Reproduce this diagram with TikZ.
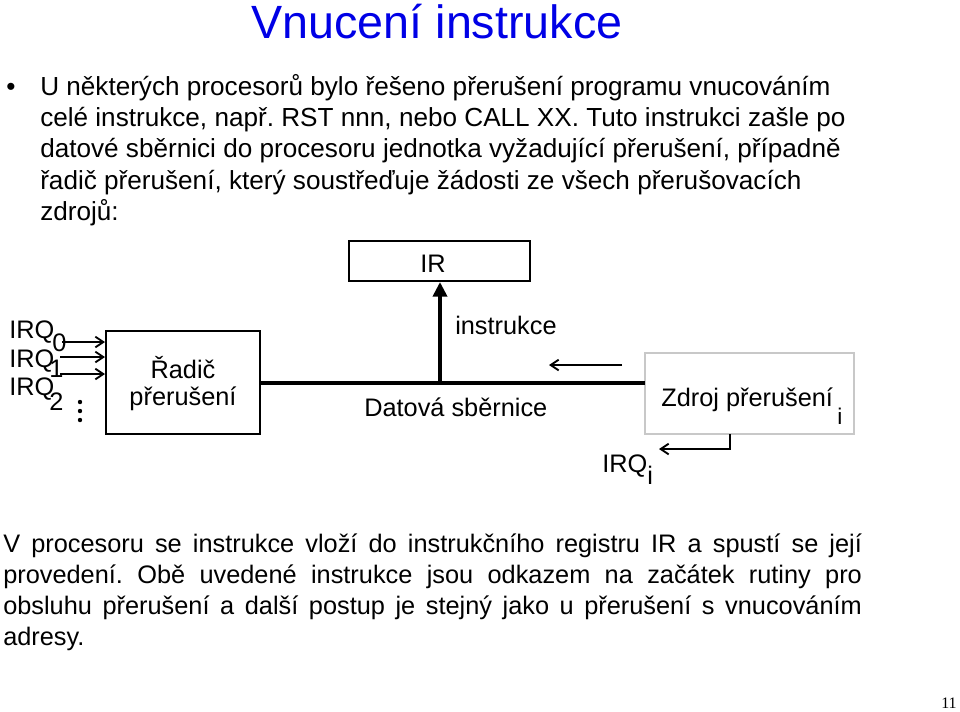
\documentclass[tikz,border=0pt]{standalone}
\usepackage{fontspec}
\setmainfont{Liberation Sans}
\newfontfamily\pagefont{Liberation Serif}
\usetikzlibrary{arrows.meta}
\definecolor{titleblue}{RGB}{0,0,230}
\definecolor{srcgray}{RGB}{200,200,200}
\frenchspacing
\begin{document}
\begin{tikzpicture}[x=0.75pt,y=-0.75pt,
  txt/.style={anchor=base west,inner sep=0,font=\fontsize{19}{19}\selectfont},
  toptxt/.style={anchor=base west,inner sep=0,font=\fontsize{19.6}{19.6}\selectfont},
  subtxt/.style={anchor=base west,inner sep=0,font=\fontsize{17}{17}\selectfont},
  box/.style={draw,line width=1.5pt,inner sep=0},
  arr/.style={line width=1.4pt,-{Straight Barb[length=6pt,width=8pt,line width=1.4pt]}},
  bus/.style={line width=3pt},
  bigarrow/.style={line width=3.6pt,-{Triangle[length=11pt,width=10.5pt]}}]
\useasboundingbox (0,0) rectangle (960,711);
% title
\node[anchor=base,inner sep=0,font=\fontsize{35}{35}\selectfont,text=titleblue] (title) at (437,38) {Vnucení instrukce};
% bullet text
\node[anchor=base west,inner sep=0,font=\fontsize{19.6}{19.6}\selectfont] (bul) at (6,95) {\textbullet};
\node[toptxt] (l1) at (40,95) {U některých procesorů bylo řešeno přerušení programu vnucováním};
\node[toptxt] (l2) at (40,126) {celé instrukce, např. RST nnn, nebo CALL XX. Tuto instrukci zašle po};
\node[toptxt] (l3) at (40,157) {datové sběrnici do procesoru jednotka vyžadující přerušení, případně};
\node[toptxt] (l4) at (40,189) {řadič přerušení, který soustřeďuje žádosti ze všech přerušovacích};
\node[toptxt] (l5) at (40,220) {zdrojů:};
% boxes
\node[box,minimum width=135.75pt,minimum height=30pt] (ir) at (439.5,261) {};
\node[txt,anchor=base] (irt) at (433,272) {IR};
\node[box,minimum width=115.5pt,minimum height=77.25pt] (radic) at (183,382.5) {};
\node[txt,anchor=base] (rad1) at (183,378) {Řadič};
\node[txt,anchor=base] (rad2) at (183,405) {přerušení};
\node[draw=srcgray,line width=1.1pt,inner sep=0,minimum width=156.75pt,minimum height=60.75pt] (zdroj) at (749.5,393.5) {};
\node[txt] (zt) at (661,406) {Zdroj přerušení};
\node[subtxt] (zti) at (837,424) {i};
% bus
\coordinate (busR) at (645,382.5);
\draw[bus] (radic.east) -- (busR);
\coordinate (tap) at (440,382.5);
\draw[bigarrow] (tap) -- (ir.south -| tap);
\node[txt] (instr) at (455,334) {instrukce};
\node[txt] (dat) at (364,416) {Datová sběrnice};
\coordinate (a1) at (622,365);
\coordinate (a2) at (549,365);
\draw[arr] (a1) -- (a2);
% IRQ inputs
\node[txt] (irq0) at (9,338) {IRQ};
\node[txt] (irq0s) at (52,351) {0};
\node[txt] (irq1) at (9,367) {IRQ};
\node[txt] (irq1s) at (49,377) {1};
\node[txt] (irq2) at (9,395) {IRQ};
\node[txt] (irq2s) at (49,410) {2};
\coordinate (i0) at (62,342);
\coordinate (i1) at (60,357);
\coordinate (i2) at (60,374);
\draw[arr] (i0) -- (i0 -| radic.west);
\draw[arr] (i1) -- (i1 -| radic.west);
\draw[arr] (i2) -- (i2 -| radic.west);
\fill (80,402) circle (2.2);
\fill (80,411) circle (2.2);
\fill (80,420) circle (2.2);
% source IRQ
\coordinate (zd) at (730,434);
\coordinate (irqtip) at (659,449);
\draw[arr] (zd) |- (irqtip);
\node[txt] (irqi) at (602,472) {IRQ};
\node[txt] (irqis) at (647,484) {i};
% bottom paragraph (justified)
\node[txt] (b1) at (3,552) {\makebox[644pt][s]{V procesoru se instrukce vloží do instrukčního registru IR a spustí se její}};
\node[txt] (b2) at (3,583) {\makebox[644pt][s]{provedení. Obě uvedené instrukce jsou odkazem na začátek rutiny pro}};
\node[txt] (b3) at (3,614) {\makebox[644pt][s]{obsluhu přerušení a další postup je stejný jako u přerušení s vnucováním}};
\node[txt] (b4) at (3,645) {adresy.};
% page number
\node[anchor=base east,inner sep=0,font=\pagefont\fontsize{12}{12}\selectfont] (pg) at (957,708) {11};
\end{tikzpicture}
\end{document}
